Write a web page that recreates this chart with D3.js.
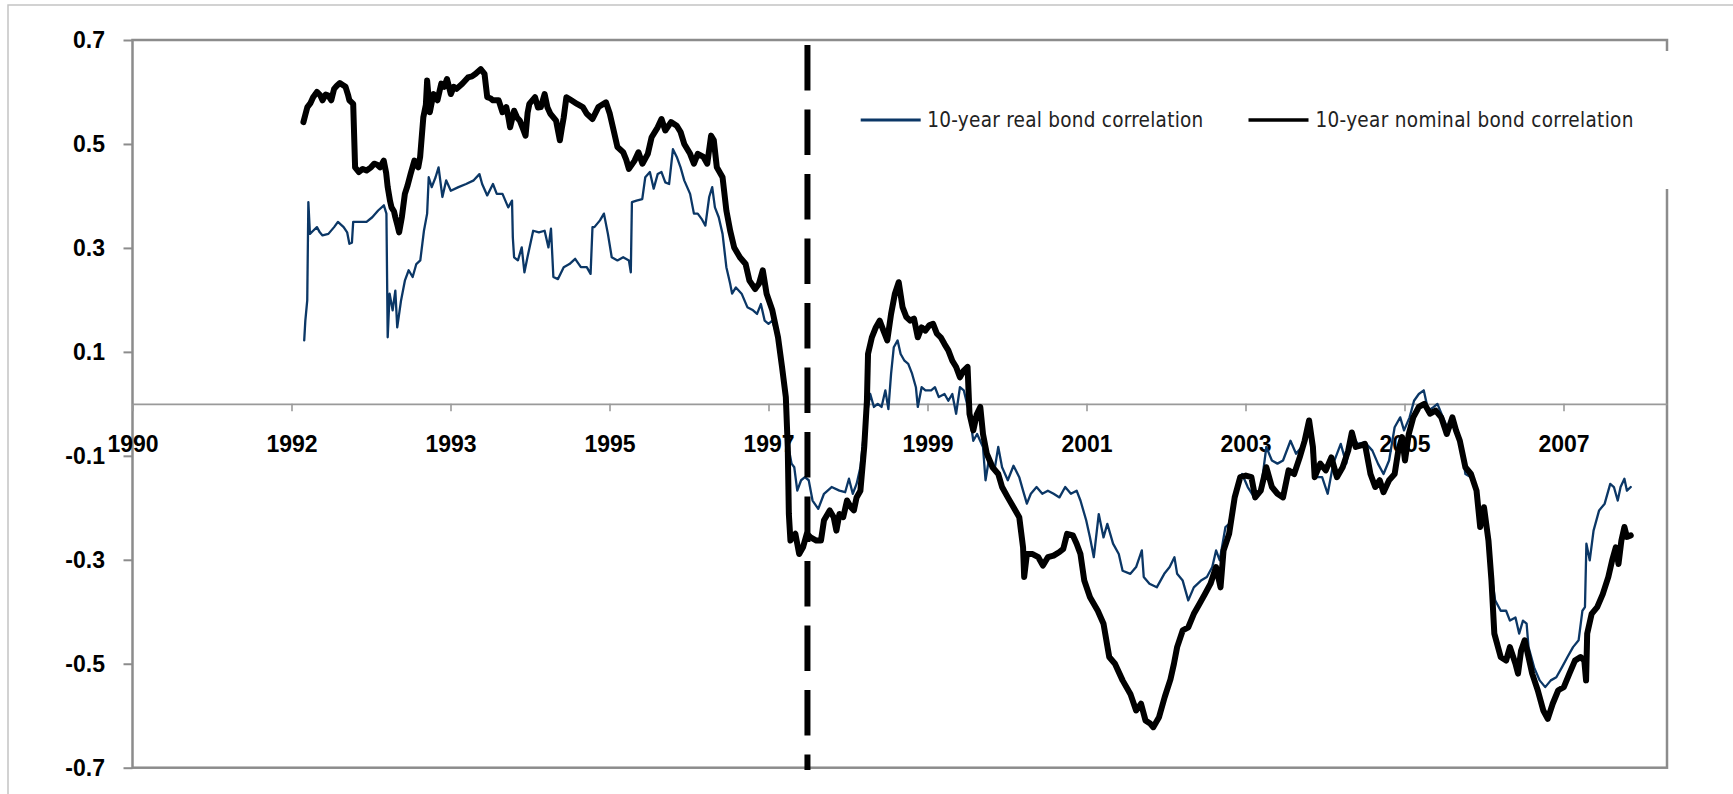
<!DOCTYPE html>
<html>
<head>
<meta charset="utf-8">
<script src="https://cdn.jsdelivr.net/npm/d3@7"></script>
<style>
  html, body { margin: 0; padding: 0; background: #fff; }
  svg { display: block; }
</style>
</head>
<body>
<svg id="chart" width="1733" height="794"></svg>
<script>
// Category-axis labels; each label occupies one slot, x positions below are in slots.
const xLabels = ["1990", "1992", "1993", "1995", "1997", "1999", "2001", "2003", "2005", "2007"];
const yTicks = [-0.7, -0.5, -0.3, -0.1, 0.1, 0.3, 0.5, 0.7];
const seriesNames = ["10-year real bond correlation", "10-year nominal bond correlation"];

// Vertical marker position (slots)
const breakPos = 4.245;

// Rolling correlation, real bonds: [slot, correlation]
const realCorr = [
  [1.08,0.122],[1.087,0.16],[1.099,0.199],[1.106,0.388],[1.116,0.327],[1.136,0.333],[1.16,0.34],[1.178,0.33],
  [1.195,0.324],[1.232,0.327],[1.268,0.34],[1.292,0.35],[1.328,0.34],[1.35,0.33],[1.364,0.308],[1.38,0.31],
  [1.388,0.35],[1.436,0.35],[1.472,0.35],[1.508,0.359],[1.545,0.372],[1.581,0.382],[1.597,0.366],[1.605,0.128],
  [1.617,0.212],[1.636,0.18],[1.653,0.218],[1.665,0.147],[1.689,0.199],[1.713,0.237],[1.737,0.257],[1.762,0.244],
  [1.785,0.269],[1.81,0.276],[1.833,0.333],[1.853,0.366],[1.863,0.436],[1.882,0.417],[1.906,0.436],[1.925,0.455],
  [1.949,0.398],[1.973,0.43],[2.002,0.41],[2.05,0.417],[2.098,0.423],[2.146,0.43],[2.182,0.442],[2.199,0.423],
  [2.231,0.401],[2.267,0.423],[2.291,0.404],[2.327,0.404],[2.363,0.378],[2.387,0.391],[2.392,0.32],[2.4,0.282],
  [2.424,0.276],[2.448,0.301],[2.465,0.253],[2.484,0.282],[2.52,0.333],[2.556,0.33],[2.592,0.333],[2.616,0.301],
  [2.632,0.337],[2.647,0.244],[2.676,0.24],[2.712,0.263],[2.748,0.269],[2.784,0.279],[2.82,0.263],[2.857,0.263],
  [2.881,0.25],[2.893,0.34],[2.905,0.34],[2.94,0.353],[2.965,0.366],[2.99,0.327],[3.014,0.282],[3.05,0.276],
  [3.086,0.282],[3.122,0.276],[3.134,0.253],[3.141,0.388],[3.17,0.391],[3.206,0.394],[3.225,0.436],[3.254,0.446],
  [3.278,0.414],[3.303,0.442],[3.327,0.446],[3.351,0.426],[3.375,0.423],[3.399,0.49],[3.423,0.475],[3.447,0.455],
  [3.47,0.43],[3.507,0.404],[3.531,0.366],[3.555,0.366],[3.579,0.356],[3.603,0.343],[3.627,0.398],[3.646,0.417],
  [3.663,0.378],[3.687,0.359],[3.711,0.327],[3.735,0.263],[3.759,0.231],[3.771,0.212],[3.795,0.224],[3.831,0.212],
  [3.867,0.186],[3.903,0.18],[3.928,0.173],[3.952,0.192],[3.976,0.16],[4.0,0.154],[4.024,0.16],[4.049,0.135],
  [4.07,0.1],[4.09,0.05],[4.11,-0.01],[4.13,-0.09],[4.145,-0.115],[4.162,-0.122],[4.181,-0.167],[4.205,-0.147],
  [4.229,-0.141],[4.253,-0.147],[4.277,-0.186],[4.313,-0.202],[4.349,-0.173],[4.397,-0.16],[4.446,-0.167],[4.482,-0.17],
  [4.506,-0.144],[4.53,-0.173],[4.554,-0.154],[4.578,-0.122],[4.602,-0.051],[4.64,0.019],[4.663,-0.006],[4.687,0.0],
  [4.711,-0.006],[4.735,0.026],[4.754,-0.01],[4.771,0.058],[4.788,0.109],[4.812,0.122],[4.831,0.096],[4.855,0.083],
  [4.879,0.077],[4.903,0.058],[4.927,0.032],[4.939,-0.006],[4.963,0.032],[4.987,0.026],[5.023,0.026],[5.047,0.032],
  [5.071,0.013],[5.107,0.019],[5.131,0.006],[5.156,0.019],[5.18,-0.019],[5.204,0.032],[5.228,0.026],[5.264,-0.019],
  [5.288,-0.071],[5.312,-0.058],[5.349,-0.083],[5.365,-0.147],[5.385,-0.109],[5.421,-0.128],[5.445,-0.083],[5.469,-0.122],
  [5.505,-0.147],[5.541,-0.119],[5.577,-0.141],[5.601,-0.167],[5.625,-0.192],[5.65,-0.173],[5.686,-0.16],[5.722,-0.173],
  [5.757,-0.167],[5.793,-0.173],[5.83,-0.18],[5.866,-0.16],[5.902,-0.173],[5.938,-0.167],[5.962,-0.186],[5.998,-0.224],
  [6.022,-0.257],[6.046,-0.295],[6.077,-0.212],[6.107,-0.257],[6.131,-0.231],[6.167,-0.269],[6.203,-0.289],[6.227,-0.321],
  [6.276,-0.327],[6.312,-0.314],[6.348,-0.282],[6.36,-0.333],[6.396,-0.346],[6.442,-0.353],[6.489,-0.327],[6.523,-0.314],
  [6.553,-0.295],[6.57,-0.327],[6.605,-0.34],[6.64,-0.378],[6.675,-0.353],[6.72,-0.34],[6.757,-0.333],[6.791,-0.314],
  [6.815,-0.282],[6.838,-0.301],[6.874,-0.237],[6.897,-0.231],[6.932,-0.18],[6.979,-0.135],[7.014,-0.16],[7.061,-0.183],
  [7.096,-0.167],[7.131,-0.083],[7.166,-0.109],[7.201,-0.115],[7.236,-0.109],[7.283,-0.071],[7.318,-0.096],[7.353,-0.083],
  [7.4,-0.045],[7.435,-0.141],[7.482,-0.141],[7.517,-0.173],[7.552,-0.115],[7.599,-0.077],[7.634,-0.115],[7.669,-0.058],
  [7.704,-0.077],[7.751,-0.074],[7.798,-0.09],[7.833,-0.115],[7.868,-0.135],[7.903,-0.109],[7.938,-0.045],[7.973,-0.026],
  [7.997,-0.051],[8.032,-0.026],[8.06,0.006],[8.09,0.019],[8.121,0.026],[8.149,-0.013],[8.184,-0.006],[8.207,0.0],
  [8.242,-0.026],[8.277,-0.051],[8.312,-0.038],[8.348,-0.064],[8.383,-0.135],[8.418,-0.141],[8.453,-0.173],[8.488,-0.224],
  [8.523,-0.244],[8.547,-0.327],[8.57,-0.378],[8.605,-0.398],[8.639,-0.398],[8.663,-0.417],[8.698,-0.411],[8.721,-0.442],
  [8.745,-0.417],[8.768,-0.423],[8.78,-0.468],[8.815,-0.507],[8.85,-0.532],[8.885,-0.545],[8.92,-0.532],[8.955,-0.526],
  [8.99,-0.507],[9.025,-0.487],[9.06,-0.468],[9.095,-0.455],[9.119,-0.398],[9.135,-0.391],[9.144,-0.269],[9.165,-0.301],
  [9.189,-0.244],[9.224,-0.205],[9.259,-0.192],[9.294,-0.154],[9.317,-0.16],[9.341,-0.186],[9.359,-0.16],[9.383,-0.144],
  [9.399,-0.167],[9.423,-0.16]
];

// Rolling correlation, nominal bonds: [slot, correlation]
const nominalCorr = [
  [1.075,0.542],[1.087,0.556],[1.10,0.571],[1.118,0.578],[1.136,0.59],[1.16,0.6],[1.18,0.594],[1.195,0.584],
  [1.215,0.595],[1.232,0.593],[1.25,0.584],[1.268,0.606],[1.285,0.612],[1.304,0.617],[1.325,0.613],[1.34,0.61],
  [1.355,0.595],[1.364,0.584],[1.388,0.577],[1.40,0.455],[1.424,0.446],[1.448,0.452],[1.472,0.449],[1.50,0.455],
  [1.52,0.462],[1.54,0.46],[1.557,0.455],[1.58,0.468],[1.595,0.445],[1.605,0.417],[1.62,0.39],[1.629,0.378],
  [1.645,0.37],[1.653,0.359],[1.665,0.345],[1.677,0.33],[1.694,0.359],[1.713,0.404],[1.73,0.42],[1.749,0.442],
  [1.773,0.468],[1.785,0.46],[1.797,0.455],[1.809,0.475],[1.829,0.551],[1.845,0.575],[1.853,0.622],[1.87,0.561],
  [1.882,0.58],[1.894,0.596],[1.918,0.584],[1.942,0.616],[1.96,0.61],[1.978,0.625],[2.002,0.596],[2.02,0.61],
  [2.038,0.606],[2.074,0.616],[2.11,0.628],[2.135,0.63],[2.158,0.635],[2.19,0.644],[2.214,0.635],[2.231,0.59],
  [2.25,0.588],[2.267,0.584],[2.303,0.584],[2.327,0.561],[2.351,0.571],[2.365,0.55],[2.375,0.532],[2.4,0.564],
  [2.42,0.55],[2.436,0.545],[2.455,0.53],[2.472,0.516],[2.485,0.56],[2.496,0.577],[2.532,0.59],[2.55,0.57],
  [2.568,0.571],[2.592,0.596],[2.61,0.57],[2.628,0.558],[2.664,0.545],[2.688,0.507],[2.7,0.53],[2.712,0.551],
  [2.729,0.59],[2.76,0.584],[2.796,0.577],[2.832,0.571],[2.857,0.558],[2.893,0.548],[2.93,0.571],[2.978,0.58],
  [3.002,0.558],[3.026,0.526],[3.05,0.494],[3.086,0.484],[3.105,0.47],[3.122,0.452],[3.158,0.468],[3.182,0.484],
  [3.207,0.462],[3.241,0.481],[3.265,0.513],[3.303,0.532],[3.327,0.548],[3.351,0.526],[3.387,0.542],[3.423,0.535],
  [3.447,0.523],[3.47,0.5],[3.507,0.481],[3.531,0.462],[3.555,0.481],[3.591,0.475],[3.615,0.462],[3.639,0.516],
  [3.656,0.507],[3.675,0.455],[3.711,0.436],[3.735,0.372],[3.759,0.333],[3.784,0.301],[3.82,0.282],[3.856,0.269],
  [3.88,0.237],[3.916,0.221],[3.94,0.231],[3.964,0.257],[3.988,0.212],[4.024,0.18],[4.06,0.128],[4.085,0.071],
  [4.109,0.013],[4.121,-0.083],[4.128,-0.212],[4.138,-0.263],[4.153,-0.255],[4.169,-0.25],[4.193,-0.289],[4.217,-0.276],
  [4.241,-0.25],[4.265,-0.257],[4.301,-0.263],[4.33,-0.263],[4.349,-0.224],[4.385,-0.205],[4.41,-0.218],[4.427,-0.244],
  [4.446,-0.212],[4.47,-0.218],[4.494,-0.186],[4.518,-0.199],[4.537,-0.205],[4.554,-0.18],[4.578,-0.167],[4.602,-0.083],
  [4.619,0.006],[4.626,0.096],[4.65,0.128],[4.675,0.147],[4.699,0.16],[4.723,0.141],[4.747,0.122],[4.771,0.173],
  [4.795,0.212],[4.819,0.234],[4.843,0.186],[4.867,0.167],[4.891,0.16],[4.915,0.164],[4.939,0.128],[4.963,0.147],
  [4.987,0.141],[5.011,0.151],[5.035,0.154],[5.059,0.135],[5.083,0.128],[5.107,0.115],[5.131,0.103],[5.156,0.083],
  [5.18,0.071],[5.204,0.051],[5.228,0.064],[5.252,0.071],[5.264,-0.019],[5.288,-0.051],[5.31,-0.02],[5.332,-0.006],
  [5.349,-0.058],[5.373,-0.096],[5.409,-0.122],[5.445,-0.135],[5.469,-0.16],[5.505,-0.18],[5.541,-0.199],[5.577,-0.218],
  [5.601,-0.276],[5.608,-0.333],[5.625,-0.289],[5.661,-0.289],[5.697,-0.295],[5.726,-0.311],[5.757,-0.295],[5.793,-0.292],
  [5.83,-0.285],[5.854,-0.279],[5.878,-0.25],[5.914,-0.253],[5.938,-0.269],[5.962,-0.289],[5.986,-0.34],[6.022,-0.372],
  [6.071,-0.398],[6.107,-0.423],[6.143,-0.487],[6.179,-0.5],[6.227,-0.532],[6.276,-0.558],[6.312,-0.59],[6.343,-0.577],
  [6.371,-0.609],[6.40,-0.615],[6.42,-0.622],[6.456,-0.603],[6.492,-0.564],[6.528,-0.53],[6.55,-0.5],[6.57,-0.468],
  [6.605,-0.436],[6.64,-0.43],[6.675,-0.404],[6.71,-0.385],[6.745,-0.366],[6.78,-0.346],[6.815,-0.314],[6.843,-0.353],
  [6.862,-0.282],[6.897,-0.25],[6.932,-0.18],[6.967,-0.141],[7.002,-0.138],[7.037,-0.141],[7.061,-0.18],[7.096,-0.167],
  [7.131,-0.122],[7.166,-0.16],[7.201,-0.173],[7.236,-0.18],[7.271,-0.128],[7.306,-0.135],[7.341,-0.103],[7.372,-0.071],
  [7.4,-0.032],[7.424,-0.083],[7.435,-0.141],[7.47,-0.115],[7.505,-0.128],[7.54,-0.103],[7.575,-0.141],[7.611,-0.122],
  [7.646,-0.09],[7.669,-0.055],[7.693,-0.083],[7.727,-0.08],[7.751,-0.077],[7.786,-0.135],[7.816,-0.16],[7.844,-0.147],
  [7.868,-0.17],[7.903,-0.147],[7.938,-0.135],[7.961,-0.09],[7.985,-0.064],[8.003,-0.109],[8.027,-0.058],[8.055,-0.026],
  [8.09,-0.006],[8.125,0.0],[8.161,-0.019],[8.196,-0.013],[8.231,-0.026],[8.266,-0.058],[8.301,-0.026],[8.324,-0.051],
  [8.348,-0.071],[8.383,-0.122],[8.418,-0.135],[8.453,-0.167],[8.476,-0.237],[8.5,-0.199],[8.528,-0.263],[8.547,-0.34],
  [8.565,-0.442],[8.605,-0.487],[8.639,-0.494],[8.663,-0.468],[8.698,-0.5],[8.714,-0.519],[8.733,-0.475],[8.756,-0.455],
  [8.78,-0.487],[8.803,-0.519],[8.838,-0.551],[8.873,-0.59],[8.901,-0.606],[8.932,-0.577],[8.967,-0.551],[9.002,-0.545],
  [9.037,-0.519],[9.072,-0.494],[9.107,-0.487],[9.131,-0.494],[9.142,-0.532],[9.149,-0.442],[9.177,-0.404],[9.212,-0.391],
  [9.247,-0.366],[9.282,-0.333],[9.306,-0.301],[9.329,-0.276],[9.346,-0.308],[9.364,-0.263],[9.383,-0.237],[9.399,-0.256],
  [9.423,-0.253]
];

// ---- layout ----
const plot = { left: 132.5, right: 1667, top: 40, bottom: 767.7 };
const slotWidth = 159;
const frameColor = "#8c8c8c";
const tickFont = "'Liberation Sans', Arial, sans-serif";

const svg = d3.select("#chart");

const x = d3.scaleLinear()
  .domain([0, (plot.right - plot.left) / slotWidth])
  .range([plot.left, plot.right]);
const y = d3.scaleLinear()
  .domain([-0.7, 0.7])
  .range([plot.bottom, plot.top]);

// chart-area border
svg.append("rect")
  .attr("x", 8).attr("y", 5)
  .attr("width", 1800).attr("height", 900)
  .attr("fill", "none")
  .attr("stroke", "#c4c4c4")
  .attr("stroke-width", 1.5);

// plot-area frame
svg.append("rect")
  .attr("x", plot.left).attr("y", plot.top)
  .attr("width", plot.right - plot.left)
  .attr("height", plot.bottom - plot.top)
  .attr("fill", "none")
  .attr("stroke", frameColor)
  .attr("stroke-width", 2.5);

// value axis
const yAxis = svg.append("g")
  .attr("transform", `translate(${plot.left},0)`)
  .call(d3.axisLeft(y)
    .tickValues(yTicks)
    .tickSize(9)
    .tickPadding(18.5)
    .tickFormat(d => d.toFixed(1)));
yAxis.select(".domain").remove();
yAxis.selectAll(".tick line").attr("stroke", frameColor).attr("stroke-width", 2);
yAxis.selectAll(".tick text")
  .attr("fill", "#000")
  .attr("font-family", tickFont)
  .attr("font-weight", "bold")
  .attr("font-size", 23);

// category axis crossing at zero
const xAxis = svg.append("g")
  .attr("transform", `translate(0,${y(0)})`)
  .call(d3.axisBottom(x)
    .tickValues(d3.range(xLabels.length))
    .tickFormat(i => xLabels[i])
    .tickSize(7.5)
    .tickSizeOuter(0)
    .tickPadding(24.6));
xAxis.select(".domain").attr("stroke", "#9a9a9a").attr("stroke-width", 1.6);
xAxis.selectAll(".tick line").attr("stroke", "#9a9a9a").attr("stroke-width", 1.6);
xAxis.selectAll(".tick text")
  .attr("fill", "#000")
  .attr("font-family", tickFont)
  .attr("font-weight", "bold")
  .attr("font-size", 23);

// series
const line = d3.line()
  .x(d => x(d[0]))
  .y(d => y(d[1]));

const series = [
  { name: seriesNames[0], data: realCorr, color: "#0b3766", width: 2.3, legendWidth: 2.8 },
  { name: seriesNames[1], data: nominalCorr, color: "#000000", width: 6, legendWidth: 3.5 }
];

svg.append("g")
  .selectAll("path")
  .data(series)
  .join("path")
  .attr("d", d => line(d.data))
  .attr("fill", "none")
  .attr("stroke", d => d.color)
  .attr("stroke-width", d => d.width)
  .attr("stroke-linejoin", "round")
  .attr("stroke-linecap", "round");

// legend panel
svg.append("rect")
  .attr("x", 845).attr("y", 51)
  .attr("width", 845).attr("height", 138)
  .attr("fill", "#fff");

const legendItems = [
  { x0: 860.7, textX: 927.3, textLen: 276 },
  { x0: 1248.5, textX: 1315.4, textLen: 318 }
];
const legend = svg.append("g");
series.forEach((s, i) => {
  const it = legendItems[i];
  legend.append("line")
    .attr("x1", it.x0).attr("x2", it.x0 + 60)
    .attr("y1", 120).attr("y2", 120)
    .attr("stroke", s.color)
    .attr("stroke-width", s.legendWidth);
  legend.append("text")
    .attr("x", it.textX).attr("y", 127)
    .attr("font-family", "'DejaVu Sans Condensed', 'DejaVu Sans', sans-serif")
    .attr("font-stretch", "condensed")
    .attr("font-size", 20.5)
    .attr("fill", "#222")
    .attr("textLength", it.textLen)
    .attr("lengthAdjust", "spacing")
    .text(s.name);
});

// dashed vertical marker
svg.append("line")
  .attr("x1", x(breakPos)).attr("x2", x(breakPos))
  .attr("y1", 45).attr("y2", 770)
  .attr("stroke", "#000")
  .attr("stroke-width", 6)
  .attr("stroke-dasharray", "45.5 19");
</script>
</body>
</html>
